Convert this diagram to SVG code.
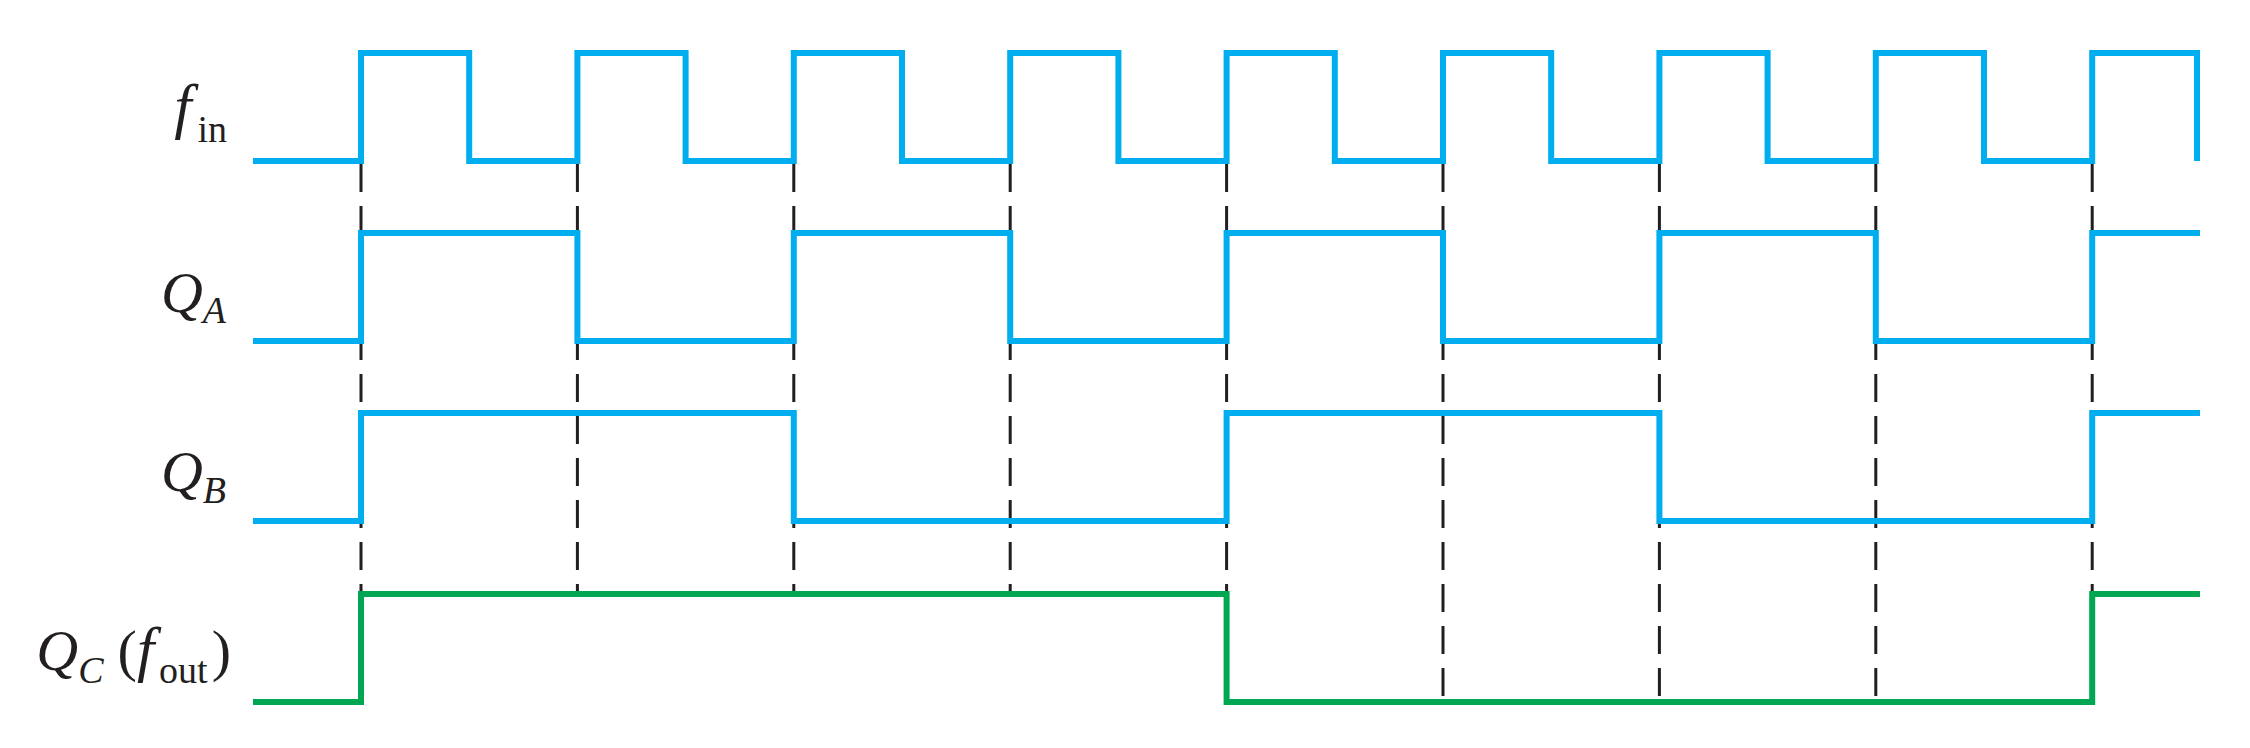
<svg xmlns="http://www.w3.org/2000/svg" width="2250" height="748" viewBox="0 0 2250 748">
<style>
  .bg { fill: #ffffff; }
  .trace { fill: none; stroke: #00aeef; stroke-width: 6; stroke-linejoin: miter; stroke-linecap: butt; }
  .out { fill: none; stroke: #00a651; stroke-width: 6; stroke-linejoin: miter; stroke-linecap: butt; }
  .dash { fill: none; stroke: #231f20; stroke-width: 3; stroke-dasharray: 28 14; }
  .lbl { font-family: "Liberation Serif", "Times New Roman", serif; font-size: 58px; fill: #231f20; }
  .it { font-style: italic; }
  .big { font-size: 62px; }
  .sub { font-size: 38px; }
</style>
<rect class="bg" x="0" y="0" width="2250" height="748"/>
<g id="connectors">
  <line class="dash" x1="361" y1="164" x2="361" y2="594"/>
  <line class="dash" x1="577.4" y1="164" x2="577.4" y2="594"/>
  <line class="dash" x1="793.8" y1="164" x2="793.8" y2="594"/>
  <line class="dash" x1="1010.2" y1="164" x2="1010.2" y2="594"/>
  <line class="dash" x1="1226.6" y1="164" x2="1226.6" y2="594"/>
  <line class="dash" x1="1443" y1="164" x2="1443" y2="702"/>
  <line class="dash" x1="1659.4" y1="164" x2="1659.4" y2="702"/>
  <line class="dash" x1="1875.8" y1="164" x2="1875.8" y2="702"/>
  <line class="dash" x1="2092.2" y1="164" x2="2092.2" y2="594"/>
</g>
<g id="fin">
  <path class="trace" d="M253,161 H361 V53 H469.2 V161 H577.4 V53 H685.6 V161 H793.8 V53 H902 V161 H1010.2 V53 H1118.4 V161 H1226.6 V53 H1334.8 V161 H1443 V53 H1551.2 V161 H1659.4 V53 H1767.6 V161 H1875.8 V53 H1984 V161 H2092.2 V53 H2197 V161"/>
  <text class="lbl" x="227" y="127" text-anchor="end"><tspan class="it big">f</tspan><tspan class="sub" dx="6" dy="15">in</tspan></text>
</g>
<g id="QA">
  <path class="trace" d="M253,341 H361 V233 H577.4 V341 H793.8 V233 H1010.2 V341 H1226.6 V233 H1443 V341 H1659.4 V233 H1875.8 V341 H2092.2 V233 H2200"/>
  <text class="lbl" x="226" y="312" text-anchor="end"><tspan class="it">Q</tspan><tspan class="sub it" dy="11">A</tspan></text>
</g>
<g id="QB">
  <path class="trace" d="M253,521 H361 V413 H793.8 V521 H1226.6 V413 H1659.4 V521 H2092.2 V413 H2200"/>
  <text class="lbl" x="226" y="491" text-anchor="end"><tspan class="it">Q</tspan><tspan class="sub it" dy="12">B</tspan></text>
</g>
<g id="QC">
  <path class="out" d="M253,702 H361 V594 H1226.6 V702 H2092.2 V594 H2200"/>
  <text class="lbl" x="231" y="670" text-anchor="end"><tspan class="it">Q</tspan><tspan class="sub it" dy="13">C</tspan><tspan dx="14" dy="-13">(</tspan><tspan class="it big">f</tspan><tspan class="sub" dx="5" dy="13">out</tspan><tspan dx="4" dy="-13">)</tspan></text>
</g>
</svg>
